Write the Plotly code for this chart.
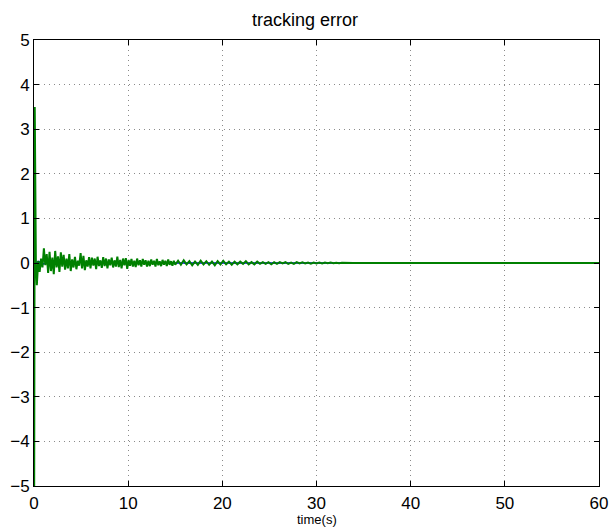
import plotly.graph_objects as go

# --- tracking error data -------------------------------------------------
# initial transient (green): starts well below the axis, spikes up, dips
green_start_t = [0.0, 0.08, 0.2]
green_start_v = [-8.0, 3.5, 0.0]

# decaying oscillation, sampled every 0.15 s from t = 0.30 s
green_osc_t0, green_osc_dt = 0.30, 0.15
green_osc_v = [
    -0.50, 0.05, -0.20, 0.10, -0.10, 0.33, -0.05, 0.20, -0.22, 0.25,
    -0.18, 0.12, -0.25, 0.27, -0.10, 0.15, -0.20, 0.24, -0.08, 0.18,
    -0.15, 0.10, -0.12, 0.20, -0.18, 0.08, -0.10, 0.14, -0.14, 0.05,
    -0.06, 0.22, -0.12, 0.16, -0.16, 0.06, -0.08, 0.13, -0.12, 0.12,
    -0.06, 0.10, -0.14, 0.14, -0.07, 0.06, -0.11, 0.13, -0.07, 0.10,
    -0.12, 0.08, -0.05, 0.12, -0.10, 0.06, -0.08, 0.14, -0.09, 0.07,
    -0.12, 0.10, -0.05, 0.11, -0.13, 0.07, -0.06, 0.09, -0.08, 0.05,
    -0.09, 0.10, -0.05, 0.06, -0.08, 0.09, -0.04, 0.06, -0.08, 0.05,
    -0.07, 0.08, -0.04, 0.05, -0.08, 0.09, -0.05, 0.04, -0.07, 0.07,
    -0.04, 0.05, -0.07, 0.08, -0.04, 0.04, -0.06, 0.05, -0.04,
]

# slower tail, sampled every 0.3 s from t = 15.3 s
green_tail_t0, green_tail_dt = 15.3, 0.3
green_tail_v = [
    0.05, -0.04, 0.06, -0.03, 0.04, -0.05, 0.03, -0.04, 0.05, -0.03,
    0.04, -0.04, 0.03, -0.05, 0.04, -0.03, 0.05, -0.03, 0.03, -0.04,
    0.03, -0.03, 0.03, -0.02, 0.04, -0.03, 0.02, -0.03, 0.03, -0.02,
    0.02, -0.02, 0.02, -0.03, 0.02, -0.02, 0.02, -0.01, 0.02, -0.02,
    0.01, -0.02, 0.02, -0.01, 0.015, -0.01, 0.01, -0.015, 0.01, -0.01,
    0.01, -0.01, 0.01, -0.005, 0.01, -0.005, 0.005, -0.005, 0.005, 0.0,
    0.005, 0.0, 0.0, 0.0, 0.0, 0.0, 0.0, 0.0, 0.0, 0.0,
]
green_end_t = [60.0]
green_end_v = [0.0]

# second error component (blue), small and mostly hidden under green
blue_t = [0.0, 0.02, 0.5, 1.0, 1.5, 2.0, 2.5, 3.0, 3.5, 4.0, 4.5, 5.0,
          6.0, 7.0, 8.0, 9.0, 10.0, 12.0, 15.0, 20.0, 60.0]
blue_v = [-8.0, 0.0, 0.03, -0.02, 0.02, -0.03, 0.02, 0.01, -0.02, 0.02,
          -0.01, 0.02, -0.01, 0.01, -0.01, 0.01, 0.0, 0.005, 0.0, 0.0, 0.0]

x_ticks = [0, 10, 20, 30, 40, 50, 60]
y_ticks = [-5, -4, -3, -2, -1, 0, 1, 2, 3, 4, 5]

# assemble green series
g_t = list(green_start_t)
g_v = list(green_start_v)
g_t += [round(green_osc_t0 + i * green_osc_dt, 4) for i in range(len(green_osc_v))]
g_v += green_osc_v
g_t += [round(green_tail_t0 + i * green_tail_dt, 4) for i in range(len(green_tail_v))]
g_v += green_tail_v
g_t += green_end_t
g_v += green_end_v

FONT = "Liberation Sans, Arial, Helvetica, sans-serif"

fig = go.Figure()
fig.add_trace(go.Scatter(x=blue_t, y=blue_v, mode="lines",
                         line=dict(color="#0000ff", width=1.5),
                         showlegend=False, hoverinfo="skip"))
fig.add_trace(go.Scatter(x=g_t, y=g_v, mode="lines",
                         line=dict(color="#008000", width=2),
                         showlegend=False, hoverinfo="skip"))

axis_common = dict(
    showline=True, linecolor="black", linewidth=1, mirror="ticks",
    ticks="inside", ticklen=5, tickcolor="black", tickwidth=1,
    showgrid=True, gridcolor="#8a8a8a", griddash="1px,4px", gridwidth=1,
    zeroline=False, automargin=False,
    tickfont=dict(family=FONT, size=17, color="black"),
)

fig.update_layout(
    width=610, height=528,
    margin=dict(l=34, r=11, t=40, b=42),
    paper_bgcolor="white", plot_bgcolor="white",
    title=dict(text="tracking error", x=0.5, xanchor="center",
               y=1 - 20 / 528, yanchor="middle",
               font=dict(family=FONT, size=18, color="black")),
    xaxis=dict(range=[0, 60], tickvals=x_ticks, ticklabelstandoff=2,
               **axis_common),
    yaxis=dict(range=[-5, 5], tickvals=y_ticks, **axis_common),
    annotations=[dict(text="time(s)", xref="paper", yref="paper",
                      x=0.5, xanchor="center", y=-0.095, yanchor="bottom",
                      showarrow=False, borderpad=0,
                      font=dict(family=FONT, size=13, color="black"))],
)

fig.write_html("out.html")
